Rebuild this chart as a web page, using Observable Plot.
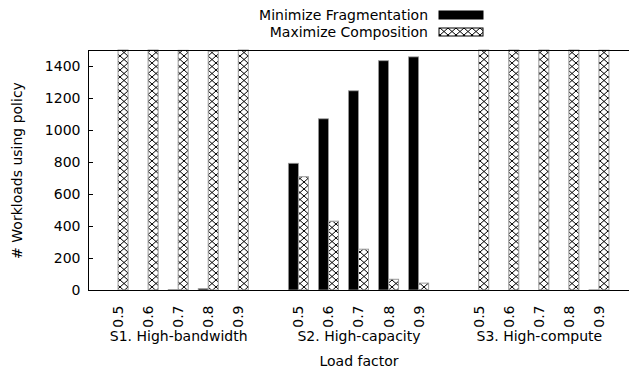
<!DOCTYPE html>
<html>
<head>
<meta charset="utf-8">
<script src="https://cdn.jsdelivr.net/npm/d3@7"></script>
<script src="https://cdn.jsdelivr.net/npm/@observablehq/plot@0.6"></script>
<style>
  body { margin: 0; background: #fff; }
  #chart svg { display: block; }
</style>
</head>
<body>
<div id="chart"></div>
<script>
// Server groups, load factors and the two placement policies
const groups = ["S1. High-bandwidth", "S2. High-capacity", "S3. High-compute"];
const loads = ["0.5", "0.6", "0.7", "0.8", "0.9"];
const policies = ["Minimize Fragmentation", "Maximize Composition"];

// Workloads choosing each policy, per group, one value per load factor
const minFrag = [
  [0, 0, 2, 8, 0],
  [792, 1070, 1245, 1433, 1457],
  [0, 0, 0, 0, 1]
];
const maxComp = [
  [1500, 1500, 1498, 1492, 1500],
  [708, 430, 255, 67, 43],
  [1500, 1500, 1500, 1500, 1499]
];
const yTicks = [0, 200, 400, 600, 800, 1000, 1200, 1400];

// Each group takes five slots followed by one empty slot
const slot = (g, i) => g * (loads.length + 1) + i;
const barW = 1 / 3;

const rows = [];
groups.forEach((g, gi) => loads.forEach((l, li) => {
  const s = slot(gi, li);
  rows.push({group: g, load: l, slot: s, policy: policies[0], value: minFrag[gi][li], x1: s - barW, x2: s});
  rows.push({group: g, load: l, slot: s, policy: policies[1], value: maxComp[gi][li], x1: s, x2: s + barW});
}));
const ticksX = rows.filter(r => r.policy === policies[0]);
const groupLabels = groups.map((g, gi) => ({group: g, x: slot(gi, 2)}));

const font = "DejaVu Sans";
const fs = 14;
const xMax = slot(groups.length - 1, loads.length);

const chart = Plot.plot({
  width: 629,
  height: 373,
  marginLeft: 88,
  marginRight: 0,
  marginTop: 50,
  marginBottom: 83,
  style: {fontFamily: font, fontSize: fs + "px", color: "#000", background: "#fff"},
  x: {domain: [-1, xMax], axis: null},
  y: {domain: [0, 1500]},
  marks: [
    Plot.rectY(rows.filter(r => r.policy === policies[0]), {
      x1: "x1", x2: "x2", y: "value", fill: "#000", stroke: "#999", strokeWidth: 0.8
    }),
    Plot.rectY(rows.filter(r => r.policy === policies[1]), {
      x1: "x1", x2: "x2", y: "value", fill: "url(#xhatch)", stroke: "#999", strokeWidth: 1
    }),
    // frame: left, bottom and top edges
    Plot.ruleX([-1], {stroke: "#000", strokeWidth: 1}),
    Plot.ruleY([0, 1500], {stroke: "#000", strokeWidth: 1}),
    Plot.axisY({ticks: yTicks, tickFormat: d => String(d), tickSize: -5, tickPadding: 13,
      label: null, fontSize: fs, stroke: "#000"}),
    Plot.text(ticksX, {
      x: "slot", y: 0, text: "load", rotate: -90, textAnchor: "end",
      dy: 15, fontSize: fs, fill: "#000"
    }),
    Plot.text(groupLabels, {x: "x", y: 0, text: "group", dy: 46, fontSize: fs, fill: "#000"}),
    Plot.text(["Load factor"], {frameAnchor: "bottom", dy: 75, fontSize: fs, fill: "#000"}),
    Plot.text(["# Workloads using policy"], {
      frameAnchor: "left", rotate: -90, textAnchor: "middle", dx: -71, fontSize: fs, fill: "#000"
    })
  ]
});

// crosshatch fill and legend
const svg = d3.select(chart);
const pat = svg.insert("defs", ":first-child")
  .append("pattern")
  .attr("id", "xhatch")
  .attr("patternUnits", "userSpaceOnUse")
  .attr("width", 8).attr("height", 7);
pat.append("rect").attr("width", 8).attr("height", 7).attr("fill", "#fff");
pat.append("path").attr("d", "M0,0L8,7M8,0L0,7")
  .attr("stroke", "#000").attr("stroke-width", 1).attr("fill", "none");

const legend = svg.append("g").attr("font-family", font).attr("font-size", fs);
policies.forEach((p, i) => {
  const y = 15 + i * 17;
  legend.append("text").attr("x", 428).attr("y", y).attr("dy", "0.35em")
    .attr("text-anchor", "end").attr("fill", "#000").text(p);
  legend.append("rect").attr("x", 439).attr("y", y - 4).attr("width", 44).attr("height", 8)
    .attr("fill", i === 0 ? "#000" : "url(#xhatch)")
    .attr("stroke", "#000").attr("stroke-width", 1);
});

document.getElementById("chart").appendChild(chart);
</script>
</body>
</html>
